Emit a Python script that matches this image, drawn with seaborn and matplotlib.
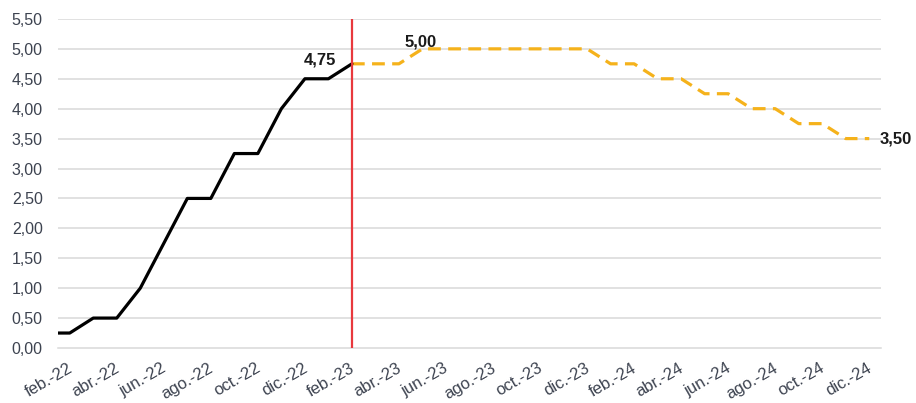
import pandas as pd
import seaborn as sns
import matplotlib.pyplot as plt
import matplotlib.transforms as mtransforms
import numpy as np

# Month labels (monthly axis, feb-22 .. dic-24)
months = ["feb.-22", "mar.-22", "abr.-22", "may.-22", "jun.-22", "jul.-22", "ago.-22",
          "sep.-22", "oct.-22", "nov.-22", "dic.-22", "ene.-23", "feb.-23", "mar.-23",
          "abr.-23", "may.-23", "jun.-23", "jul.-23", "ago.-23", "sep.-23", "oct.-23",
          "nov.-23", "dic.-23", "ene.-24", "feb.-24", "mar.-24", "abr.-24", "may.-24",
          "jun.-24", "jul.-24", "ago.-24", "sep.-24", "oct.-24", "nov.-24", "dic.-24"]

# observed rate, feb-22 .. feb-23 (mid-month)
observed = [0.25, 0.50, 0.50, 1.00, 1.75, 2.50, 2.50, 3.25, 3.25, 4.00, 4.50, 4.50, 4.75]
# expected path, feb-23 .. dic-24 (mid-month)
expected = [4.75, 4.75, 4.75, 5.00, 5.00, 5.00, 5.00, 5.00, 5.00, 5.00, 5.00, 4.75,
            4.75, 4.50, 4.50, 4.25, 4.25, 4.00, 4.00, 3.75, 3.75, 3.50, 3.50]

# positions: month index + 0.5 (values sit mid-month); observed line starts at month start
x_obs = [0] + [i + 0.5 for i in range(len(observed))]
y_obs = [observed[0]] + observed
start_exp = len(observed) - 1
x_exp = [start_exp + i + 0.5 for i in range(len(expected))]

df_obs = pd.DataFrame({"x": x_obs, "y": y_obs})
df_exp = pd.DataFrame({"x": x_exp, "y": expected})

sns.set_style("white")
plt.rcParams["font.family"] = ["Liberation Sans", "DejaVu Sans"]

fig = plt.figure(figsize=(9.16, 4.03), dpi=100)
ax = fig.add_axes([0.0633, 0.1365, 0.8985, 0.8165])

grid_col = "#d9d9d9"
lab_col = "#3d4350"
for v in np.arange(0.5, 5.51, 0.5):
    ax.axhline(v, color=grid_col, lw=1.1, zorder=0)

sns.lineplot(data=df_exp, x="x", y="y", ax=ax, color="#f5b21b", lw=2.3,
             linestyle=(0, (4, 2.3)), zorder=3)
sns.lineplot(data=df_obs, x="x", y="y", ax=ax, color="black", lw=2.3, zorder=4)

ax.axvline(x_obs[-1], color="#e8383d", lw=1.6, zorder=5)

# labels
ax.text(x_obs[-1] - 1.36, observed[-1] + 0.07, "4,75", ha="center", va="center",
        fontsize=12, fontweight="bold", color="#1a1a1a")
ax.text(x_exp[3] - 0.1, expected[3] + 0.11, "5,00", ha="center", va="center",
        fontsize=12, fontweight="bold", color="#1a1a1a")
ax.text(x_exp[-1] + 0.45, expected[-1], "3,50", ha="left", va="center",
        fontsize=12, fontweight="bold", color="#1a1a1a")

ax.set_xlim(0, len(months))
ax.set_ylim(0, 5.5)
ax.set_yticks(np.arange(0, 5.51, 0.5))
ax.set_yticklabels([f"{v:.2f}".replace(".", ",") for v in np.arange(0, 5.51, 0.5)],
                   fontsize=11.5, color=lab_col)
ax.set_xticks(range(len(months)), minor=True)
ax.set_xticks(range(0, len(months), 2))
ax.set_xticklabels(months[::2], rotation=30, ha="right", va="center",
                   rotation_mode="anchor", fontsize=12, color=lab_col)
ax.tick_params(axis="x", which="both", direction="inout", length=6, width=1,
               color=grid_col, pad=10.5)
ax.tick_params(axis="y", length=0, pad=11)
ax.set_xlabel("")
ax.set_ylabel("")

# nudge x labels right, like the original
shift = mtransforms.ScaledTranslation(0.13, 0, fig.dpi_scale_trans)
for lab in ax.get_xticklabels():
    lab.set_transform(lab.get_transform() + shift)

for s in ["top", "right", "left"]:
    ax.spines[s].set_visible(False)
ax.spines["bottom"].set_color(grid_col)
ax.spines["bottom"].set_linewidth(1.1)

fig.savefig("out.png", dpi=100)
